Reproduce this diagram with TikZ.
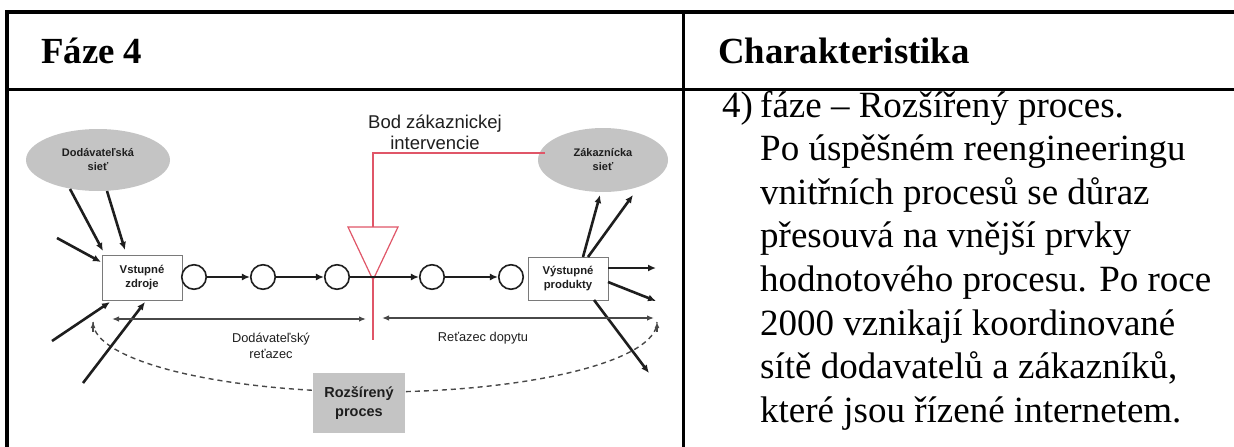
\documentclass[tikz,border=0pt]{standalone}
\usepackage{fontspec}
\setmainfont{Liberation Serif}
\newfontfamily\diagfont{Liberation Sans}
\usetikzlibrary{arrows.meta,shapes.geometric,calc}
\definecolor{ink}{HTML}{1E1E1E}
\definecolor{netgray}{HTML}{C4C4C4}
\definecolor{cipred}{RGB}{224,86,104}
\definecolor{guide}{HTML}{484848}
\definecolor{boxedge}{HTML}{7A7A7A}
\begin{document}
\begin{tikzpicture}[x=1pt,y=-1pt,
  rule/.style={line width=#1, black},
  head/.style={anchor=base west, inner sep=0pt, font=\bfseries\fontsize{36.8}{40}\selectfont},
  body/.style={anchor=base west, inner sep=0pt, font=\fontsize{37}{44}\selectfont},
  net/.style={ellipse, fill=netgray, draw=none, inner sep=0pt, text=ink,
    font=\diagfont\bfseries\fontsize{11}{14}\selectfont, align=center},
  stage/.style={rectangle, draw=boxedge, line width=1pt, fill=white, inner sep=0pt,
    text=ink, font=\diagfont\bfseries\fontsize{11.3}{14}\selectfont, align=center},
  op/.style={circle, draw=ink, line width=1.6pt, fill=white, minimum size=24.5pt, inner sep=0pt},
  flow/.style={line width=2.6pt, ink, -{Latex[length=8pt,width=7pt]}},
  span/.style={line width=1.3pt, guide, {Latex[length=7pt,width=5.5pt]}-{Latex[length=7pt,width=5.5pt]}},
  loop/.style={line width=1.4pt, guide, dash pattern=on 5pt off 4pt},
  lbl/.style={inner sep=0pt, text=ink, font=\diagfont\fontsize{12.8}{15.5}\selectfont, align=center},
  cip/.style={line width=1.2pt, cipred}
]
\useasboundingbox (0,0) rectangle (1234,447);

% ---- table frame ----
\draw[rule=4pt] (7,12) -- (1234,12);
\draw[rule=4pt] (7,10) -- (7,447);
\draw[rule=3pt] (7,89) -- (1234,89);
\draw[rule=2.5pt] (683.5,12) -- (683.5,447);

% ---- header row ----
\node[head] (hphase) at (41,63) {Fáze 4};
\node[head] (hchar) at (718,63) {Charakteristika};

% ---- description ----
\node[body] (num) at (722,117) {4)};
\foreach \t [count=\i from 0] in {%
  {fáze – Rozšířený proces.},
  {Po úspěšném reengineeringu},
  {vnitřních procesů se důraz},
  {přesouvá na vnější prvky},
  {hodnotového procesu. Po roce},
  {2000 vznikají koordinované},
  {sítě dodavatelů a zákazníků,},
  {které jsou řízené internetem.}}
  \node[body] (line\i) at (760,117+43.6*\i) {\t};

% ---- extended process diagram ----
% dashed loop below the chain
\draw[loop] (93,322) arc[start angle=180, end angle=0, x radius=282, y radius=70];
\coordinate (loopL) at (93,322);
\coordinate (loopR) at (657,322);
\draw[loop, -{Latex[length=6pt,width=5pt]}] (93,332) -- (loopL);
\draw[loop, -{Latex[length=6pt,width=5pt]}] (657,332) -- (loopR);

\node[net, minimum width=144pt, minimum height=62pt] (supnet) at (98,160) {Dodávateľská\\sieť};
\node[net, minimum width=130pt, minimum height=64pt] (cusnet) at (603,160) {Zákaznícka\\sieť};

\node[stage, minimum width=80pt, minimum height=45pt] (input) at (142,277.5) {Vstupné\\zdroje};
\node[stage, minimum width=80pt, minimum height=43pt] (output) at (568,278.5) {Výstupné\\produkty};

\node[op] (c1) at (194,277) {};
\node[op] (c2) at (263,277) {};
\node[op] (c3) at (337,277) {};
\node[op] (c4) at (432,277) {};
\node[op] (c5) at (511,277) {};

% customer intervention point
\coordinate (tl) at (348,227);
\coordinate (tr) at (398,227);
\coordinate (ta) at (373,280);
\coordinate (cipTop) at (373,153);
\coordinate (cipBot) at (373,340);
\coordinate (cipNet) at (545,153);
\draw[cip, fill=white] (tl) -- (tr) -- (ta) -- cycle;
\draw[cip] (cipNet) -- (cipTop) -- ($(tl)!0.5!(tr)$);
\draw[cip] (ta) -- (cipBot);
\node[inner sep=0pt, text=ink, font=\diagfont\fontsize{18.5}{21}\selectfont, align=center]
  (ciplbl) at (435,132) {Bod zákaznickej\\intervencie};

% main chain
\draw[flow] (c1) -- (c2);
\draw[flow] (c2) -- (c3);
\draw[flow] (c3) -- (c4);
\draw[flow] (c4) -- (c5);

% inflows to the input resources
\coordinate (i1s) at (70,189);
\coordinate (i1e) at (103,251);
\coordinate (i2s) at (107,191);
\coordinate (i2e) at (125,250);
\coordinate (i3s) at (57,238);
\coordinate (i3e) at (101,262);
\coordinate (i4s) at (52,341);
\coordinate (i4e) at (110,302);
\coordinate (i5s) at (83,383);
\coordinate (i5e) at (145,302);
\draw[flow] (i1s) -- (i1e);
\draw[flow] (i2s) -- (i2e);
\draw[flow] (i3s) -- (i3e);
\draw[flow] (i4s) -- (i4e);
\draw[flow] (i5s) -- (i5e);

% outflows from the output products
\coordinate (o1s) at (583,257);
\coordinate (o1e) at (600,195);
\coordinate (o2s) at (588,257);
\coordinate (o2e) at (633,195);
\coordinate (o3s) at (608,268);
\coordinate (o3e) at (656,268);
\coordinate (o4s) at (608,282);
\coordinate (o4e) at (656,301);
\coordinate (o5s) at (594,300);
\coordinate (o5e) at (649,373);
\draw[flow] (o1s) -- (o1e);
\draw[flow] (o2s) -- (o2e);
\draw[flow] (o3s) -- (o3e);
\draw[flow] (o4s) -- (o4e);
\draw[flow] (o5s) -- (o5e);

% supply and demand chain spans
\coordinate (sL) at (112,319);
\coordinate (sR) at (366,319);
\coordinate (dL) at (382,318);
\coordinate (dR) at (654,318);
\draw[span] (sL) -- (sR);
\draw[span] (dL) -- (dR);
\node[lbl] (suplbl) at (271,346) {Dodávateľský\\reťazec};
\node[lbl] (demlbl) at (483,338) {Reťazec dopytu};

% extended process tag
\node[rectangle, fill=netgray, minimum width=92pt, minimum height=60pt, inner sep=0pt,
  text=ink, font=\diagfont\bfseries\fontsize{14.5}{19}\selectfont, align=center]
  (ext) at (359,403) {Rozšírený\\proces};
\end{tikzpicture}
\end{document}
